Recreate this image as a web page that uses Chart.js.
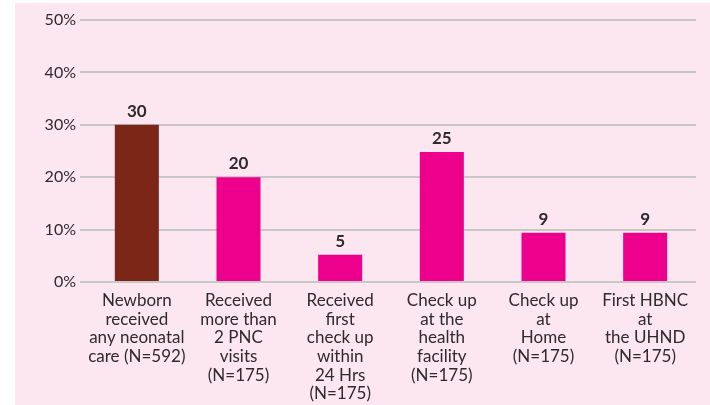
<!DOCTYPE html>
<html>
<head>
<meta charset="utf-8">
<script src="https://cdn.jsdelivr.net/npm/chart.js@4"></script>
<style>
html,body{margin:0;padding:0;background:#ffffff;}
#wrap{width:710px;height:405px;}
</style>
</head>
<body>
<div id="wrap"><canvas id="c" width="710" height="405"></canvas></div>
<script>
const categories = [
  ["Newborn", "received", "any neonatal", "care (N=592)"],
  ["Received", "more than", "2 PNC", "visits", "(N=175)"],
  ["Received", "first", "check up", "within", "24 Hrs", "(N=175)"],
  ["Check up", "at the", "health", "facility", "(N=175)"],
  ["Check up", "at", "Home", "(N=175)"],
  ["First HBNC", "at", "the UHND", "(N=175)"]
];
const values = [30, 20, 5.2, 24.8, 9.4, 9.4];
const valueLabels = ["30", "20", "5", "25", "9", "9"];
const barColors = ["#7B2616", "#EC008C", "#EC008C", "#EC008C", "#EC008C", "#EC008C"];
const yTicks = [0, 10, 20, 30, 40, 50];

const FONT = "Lato, 'Open Sans', sans-serif";
const TEXT = "#2f2a2b";

const bgPlugin = {
  id: 'bg',
  beforeDraw(chart) {
    const ctx = chart.ctx;
    ctx.save();
    ctx.fillStyle = '#ffffff';
    ctx.fillRect(0, 0, chart.width, chart.height);
    ctx.fillStyle = '#FCE7F0';
    ctx.fillRect(15, 3, chart.width - 15, chart.height - 3);
    ctx.restore();
  }
};

const valuePlugin = {
  id: 'vals',
  afterDatasetsDraw(chart) {
    const ctx = chart.ctx;
    const meta = chart.getDatasetMeta(0);
    ctx.save();
    ctx.font = "bold 17px " + FONT;
    ctx.fillStyle = TEXT;
    ctx.textAlign = 'center';
    ctx.textBaseline = 'bottom';
    meta.data.forEach((bar, i) => {
      ctx.fillText(valueLabels[i], bar.x, bar.y - 5);
    });
    ctx.restore();
  }
};

new Chart(document.getElementById('c'), {
  type: 'bar',
  data: {
    labels: categories,
    datasets: [{
      data: values,
      backgroundColor: barColors,
      borderWidth: 0,
      barPercentage: 0.433,
      categoryPercentage: 1.0
    }]
  },
  options: {
    responsive: false,
    animation: false,
    devicePixelRatio: 1,
    layout: { padding: { top: 20, right: 14, bottom: 0, left: 0 } },
    plugins: { legend: { display: false }, tooltip: { enabled: false } },
    scales: {
      x: {
        grid: { display: false, drawTicks: false },
        border: { display: false },
        ticks: {
          color: TEXT,
          font: { family: FONT, size: 17, lineHeight: 1.1 },
          padding: 9,
          maxRotation: 0,
          autoSkip: false
        },
        afterFit(scale) { scale.height = 123; }
      },
      y: {
        min: 0,
        max: 50,
        afterBuildTicks(scale) { scale.ticks = yTicks.map(v => ({ value: v })); },
        grid: { color: '#c9c6c8', lineWidth: 2, drawTicks: true, tickLength: 6 },
        border: { display: false },
        ticks: {
          color: TEXT,
          font: { family: FONT, size: 16 },
          padding: 4,
          callback: v => v + '%'
        },
        afterFit(scale) { scale.width = 86; }
      }
    }
  },
  plugins: [bgPlugin, valuePlugin]
});
</script>
</body>
</html>
